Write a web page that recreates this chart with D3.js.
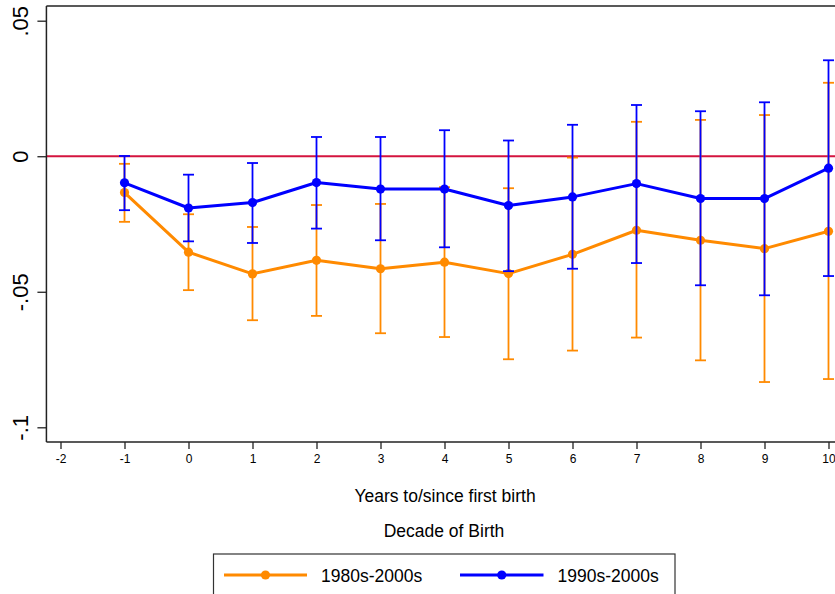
<!DOCTYPE html>
<html>
<head>
<meta charset="utf-8">
<script src="https://cdn.jsdelivr.net/npm/d3@7/dist/d3.min.js"></script>
<style>
  html, body { margin: 0; padding: 0; background: #fff; }
  svg { display: block; font-family: "Liberation Sans", Arial, Helvetica, sans-serif; }
</style>
</head>
<body>
<svg id="chart" width="835" height="594"></svg>
<script>
// Event-study estimates with 95% confidence intervals, by decade of birth
const years = [-1, 0, 1, 2, 3, 4, 5, 6, 7, 8, 9, 10];

const est1980 = [-0.0134, -0.0354, -0.0434, -0.0384, -0.0415, -0.0391, -0.0433, -0.0362, -0.0273, -0.0310, -0.0341, -0.0277];
const hi1980  = [-0.0028, -0.0214, -0.0261, -0.0180, -0.0176, -0.0114, -0.0118, -0.0005, 0.0127, 0.0134, 0.0152, 0.0271];
const lo1980  = [-0.0242, -0.0494, -0.0605, -0.0589, -0.0653, -0.0667, -0.0749, -0.0717, -0.0669, -0.0753, -0.0833, -0.0822];

const est1990 = [-0.0098, -0.0191, -0.0171, -0.0097, -0.0121, -0.0121, -0.0182, -0.0150, -0.0101, -0.0156, -0.0156, -0.0044];
const hi1990  = [0.0001, -0.0068, -0.0025, 0.0071, 0.0071, 0.0096, 0.0058, 0.0116, 0.0189, 0.0166, 0.0199, 0.0354];
const lo1990  = [-0.0199, -0.0314, -0.0320, -0.0267, -0.0310, -0.0336, -0.0424, -0.0415, -0.0394, -0.0476, -0.0513, -0.0442];

const xTicks = [-2, -1, 0, 1, 2, 3, 4, 5, 6, 7, 8, 9, 10];
const yTicks = [-0.1, -0.05, 0, 0.05];
const yTickLabels = ["-.1", "-.05", "0", ".05"];

const seriesNames = ["1980s-2000s", "1990s-2000s"];
const seriesColors = ["#ff8a00", "#0000ff"];

const svg = d3.select("#chart");

const x = d3.scaleLinear().domain([-2, 10]).range([60.5, 828.5]);
const y = d3.scaleLinear().domain([-0.1, 0.05]).range([427.3, 20.7]);

const plotLeft = x(-2.22), plotRight = x(10.3);
const plotTop = y(0.0554), plotBottom = y(-0.1054);

const axisColor = "#222";

// reference line at zero
svg.append("line")
  .attr("x1", plotLeft).attr("x2", plotRight)
  .attr("y1", y(0)).attr("y2", y(0))
  .attr("stroke", "#d4143f").attr("stroke-width", 2);

// series: error bars, connecting line, markers
const series = [
  { est: est1980, lo: lo1980, hi: hi1980, color: seriesColors[0] },
  { est: est1990, lo: lo1990, hi: hi1990, color: seriesColors[1] }
];

const capHalf = 5.5;
series.forEach(s => {
  const g = svg.append("g");
  const rows = years.map((yr, i) => ({ yr, est: s.est[i], lo: s.lo[i], hi: s.hi[i] }));

  const bars = g.selectAll("g.bar").data(rows).enter().append("g").attr("class", "bar")
    .attr("stroke", s.color).attr("stroke-width", 1.8);
  bars.append("line")
    .attr("x1", d => x(d.yr)).attr("x2", d => x(d.yr))
    .attr("y1", d => y(d.lo)).attr("y2", d => y(d.hi));
  bars.append("line")
    .attr("x1", d => x(d.yr) - capHalf).attr("x2", d => x(d.yr) + capHalf)
    .attr("y1", d => y(d.hi)).attr("y2", d => y(d.hi));
  bars.append("line")
    .attr("x1", d => x(d.yr) - capHalf).attr("x2", d => x(d.yr) + capHalf)
    .attr("y1", d => y(d.lo)).attr("y2", d => y(d.lo));

  g.append("path")
    .datum(rows)
    .attr("fill", "none")
    .attr("stroke", s.color)
    .attr("stroke-width", 3)
    .attr("stroke-linejoin", "round")
    .attr("d", d3.line().x(d => x(d.yr)).y(d => y(d.est)));

  g.selectAll("circle").data(rows).enter().append("circle")
    .attr("cx", d => x(d.yr)).attr("cy", d => y(d.est))
    .attr("r", 4.6).attr("fill", s.color);
});

// frame
svg.append("line")
  .attr("x1", plotLeft).attr("x2", plotRight)
  .attr("y1", plotTop).attr("y2", plotTop)
  .attr("stroke", axisColor).attr("stroke-width", 1.5);

// y axis
const yAxis = svg.append("g")
  .attr("transform", `translate(${plotLeft},0)`)
  .call(d3.axisLeft(y).tickValues(yTicks).tickSize(9)
    .tickFormat((d, i) => yTickLabels[i]));
yAxis.select(".domain")
  .attr("d", `M0,${plotTop}V${plotBottom}`)
  .attr("stroke", axisColor).attr("stroke-width", 1.5);
yAxis.selectAll(".tick line").attr("stroke", axisColor).attr("stroke-width", 1.3);
yAxis.selectAll(".tick text")
  .attr("x", null).attr("dy", null)
  .attr("transform", "translate(-18,0) rotate(-90)")
  .attr("text-anchor", "middle")
  .attr("fill", "#000")
  .style("font-size", "22px");

// x axis
const xAxis = svg.append("g")
  .attr("transform", `translate(0,${plotBottom})`)
  .call(d3.axisBottom(x).tickValues(xTicks).tickSize(7).tickPadding(6)
    .tickFormat(d3.format("d")));
xAxis.select(".domain")
  .attr("d", `M${plotLeft},0H${plotRight}`)
  .attr("stroke", axisColor).attr("stroke-width", 1.5);
xAxis.selectAll(".tick line").attr("stroke", axisColor).attr("stroke-width", 1.3);
xAxis.selectAll(".tick text")
  .attr("fill", "#000")
  .style("font-size", "12px")
  .text(d => d < 0 ? "-" + Math.abs(d) : String(d));

// titles
svg.append("text")
  .attr("x", 445).attr("y", 502)
  .attr("text-anchor", "middle")
  .style("font-size", "17.5px").attr("fill", "#000")
  .text("Years to/since first birth");

svg.append("text")
  .attr("x", 444).attr("y", 537)
  .attr("text-anchor", "middle")
  .style("font-size", "17.5px").attr("fill", "#000")
  .text("Decade of Birth");

// legend
const legend = svg.append("g");
legend.append("rect")
  .attr("x", 213.5).attr("y", 554).attr("width", 461.5).attr("height", 60)
  .attr("fill", "#fff").attr("stroke", "#333").attr("stroke-width", 1.2);

const legendItems = [
  { name: seriesNames[0], color: seriesColors[0], x0: 224, x1: 307, tx: 321 },
  { name: seriesNames[1], color: seriesColors[1], x0: 460, x1: 543.5, tx: 557.5 }
];
const legendY = 575;
legendItems.forEach(it => {
  legend.append("line")
    .attr("x1", it.x0).attr("x2", it.x1)
    .attr("y1", legendY).attr("y2", legendY)
    .attr("stroke", it.color).attr("stroke-width", 3);
  legend.append("circle")
    .attr("cx", (it.x0 + it.x1) / 2).attr("cy", legendY)
    .attr("r", 4.6).attr("fill", it.color);
  legend.append("text")
    .attr("x", it.tx).attr("y", 581.5)
    .style("font-size", "17.5px").attr("fill", "#000")
    .text(it.name);
});
</script>
</body>
</html>
